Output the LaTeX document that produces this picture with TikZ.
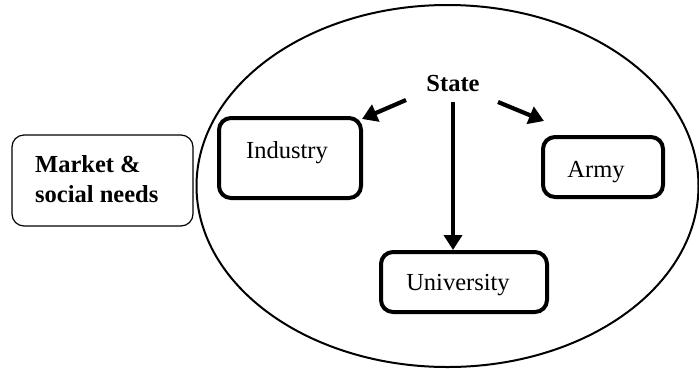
\documentclass[tikz,border=0pt]{standalone}
\usepackage{fontspec}
\setmainfont{Liberation Serif}
\usetikzlibrary{arrows.meta}
\begin{document}
\begin{tikzpicture}[x=1pt,y=-1pt,
  actor/.style={draw=black, line width=4pt, rounded corners=12pt, inner sep=0pt},
  lbl/.style={font=\fontsize{24.5}{30}\selectfont, inner sep=0pt, anchor=base},
  blbl/.style={lbl, font=\fontsize{24.5}{30}\selectfont\bfseries},
  arr/.style={line width=4.2pt, -{Triangle[length=15pt,width=18pt]}}]
  \useasboundingbox (0,0) rectangle (699,368);
  % the state sphere
  \draw[line width=2pt] (447.5,186) ellipse [x radius=251, y radius=181];
  % outside the sphere
  \node[draw=black, line width=1.2pt, rounded corners=12pt, minimum width=181pt, minimum height=91pt]
    (market) at (102.5,180.5) {};
  \node[blbl, anchor=base west] (marketA) at (35,172) {Market \&};
  \node[blbl, anchor=base west] (marketB) at (35,202) {social needs};
  % actors
  \node[actor, minimum width=142pt, minimum height=80pt] (industry) at (290,158) {};
  \node[lbl] (industrylbl) at (287,158) {Industry};
  \node[actor, minimum width=120pt, minimum height=60pt] (army) at (603,167) {};
  \node[lbl] (armylbl) at (596,177) {Army};
  \node[actor, minimum width=166pt, minimum height=60pt] (university) at (464,282) {};
  \node[lbl] (universitylbl) at (458,290) {University};
  \node[blbl] (state) at (453,91) {State};
  % links from the state
  \coordinate (sL) at (406,100);
  \coordinate (sR) at (498,102);
  \coordinate (sD) at (453,102);
  \coordinate (tR) at (544,121);
  \draw[arr] (sL) -- ([xshift=-1pt,yshift=-3pt]industry.north east);
  \draw[arr] (sR) -- (tR);
  \draw[arr] (sD) -- (sD |- university.north);
\end{tikzpicture}
\end{document}
